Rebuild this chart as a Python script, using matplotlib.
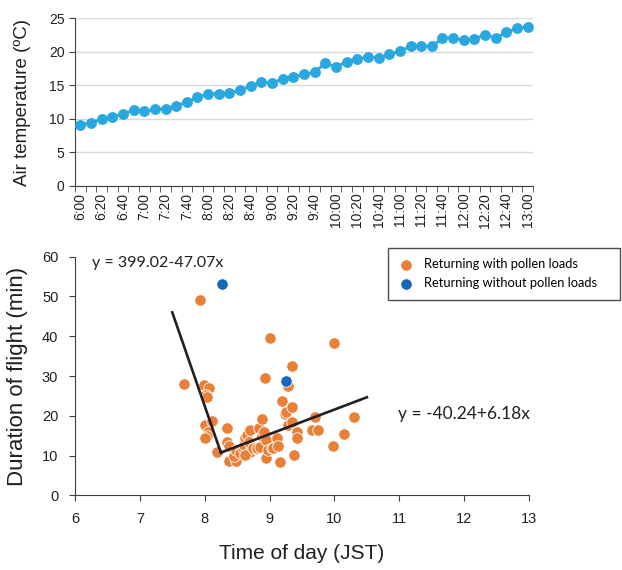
import numpy as np
import matplotlib
matplotlib.use("Agg")
from matplotlib import pyplot as plt
from matplotlib.ticker import MultipleLocator, FixedLocator

plt.rcParams['font.family'] = ['Liberation Sans', 'DejaVu Sans']

# air temperature every 10 min, 6:00 - 13:00
times = ['%d:%02d' % (h, m) for h in range(6, 13) for m in (0, 10, 20, 30, 40, 50)] + ['13:00']
temp = [9.1, 9.4, 9.9, 10.3, 10.7, 11.3, 11.1, 11.4, 11.5, 11.9, 12.5, 13.2,
        13.7, 13.75, 13.8, 14.3, 14.85, 15.55, 15.3, 16.0, 16.2, 16.65, 16.95, 18.3,
        17.75, 18.5, 18.9, 19.2, 19.1, 19.6, 20.1, 20.8, 20.9, 20.8, 22.0, 22.1,
        21.7, 21.9, 22.55, 22.1, 22.9, 23.5, 23.75]

# flights returning with pollen loads (time of day, duration min)
with_x = [7.68, 7.93, 7.99, 8.06, 8.02, 8.04, 8.00, 8.11, 8.05, 8.04, 8.01, 8.19,
          8.34, 8.37, 8.35, 8.38, 8.48, 8.45, 8.49, 8.55, 8.59, 8.60, 8.62, 8.65,
          8.70, 8.68, 8.70, 8.62, 8.75, 8.80, 8.85, 8.83, 8.88, 8.88, 8.92, 8.93,
          8.95, 8.95, 8.98, 9.00, 9.03, 9.06, 9.12, 9.13, 9.16, 9.19, 9.24, 9.25,
          9.29, 9.29, 9.34, 9.34, 9.35, 9.38, 9.42, 9.42, 9.65, 9.75, 9.70, 9.98,
          9.99, 10.14, 10.30]
with_y = [28.1, 49.2, 27.7, 27.0, 25.3, 24.6, 17.8, 18.6, 16.0, 14.8, 14.4, 10.8,
          13.4, 12.3, 16.9, 8.7, 8.7, 10.0, 11.4, 10.6, 11.8, 12.7, 14.3, 15.1,
          16.4, 13.5, 10.8, 10.1, 12.0, 11.8, 12.2, 16.9, 19.2, 14.8, 16.0, 29.6,
          9.3, 13.9, 11.4, 39.5, 12.0, 11.9, 14.5, 12.3, 8.3, 23.8, 20.5, 21.0,
          27.4, 17.7, 22.2, 18.4, 32.6, 10.1, 16.0, 14.3, 16.4, 16.4, 19.8, 12.4,
          38.2, 15.3, 19.6]
# returning without pollen loads
without_x = [8.27, 9.26]
without_y = [53.2, 28.8]

# piecewise regression
fit1 = (399.02, -47.07, 7.5, 8.25)
fit2 = (-40.24, 6.18, 8.25, 10.5)

orange = '#E8803A'
blue = '#1568B4'
dark = '#231F20'

fig = plt.figure(figsize=(6.22, 5.70), dpi=100)

# ---- top panel: temperature
ax1 = fig.add_axes([75/622, 1-185.7/570, 458/622, 167.4/570])
idx = np.arange(len(temp))
ax1.plot(idx, temp, '-o', color='#29A8E0', lw=2.0, ms=6.8, zorder=3)
ax1.set_xlim(-0.5, len(temp)-0.5)
ax1.set_ylim(0, 25)
ax1.yaxis.set_major_locator(MultipleLocator(5))
ax1.grid(axis='y', color='#D9D9D9', lw=1.0)
ax1.set_axisbelow(True)
ax1.xaxis.set_major_locator(FixedLocator(idx[::2]))
ax1.set_xticklabels(times[::2], rotation=90)
ax1.xaxis.set_minor_locator(FixedLocator(np.arange(-0.5, len(temp), 1)))
ax1.tick_params(axis='x', which='major', length=0, pad=5, labelsize=10, colors=dark)
ax1.tick_params(axis='x', which='minor', length=4, direction='out', color='#404040')
ax1.tick_params(axis='y', length=4, direction='out', labelsize=10, colors=dark, color='#404040')
for s in ['top', 'right']:
    ax1.spines[s].set_visible(False)
for s in ['left', 'bottom']:
    ax1.spines[s].set_color('#404040')
ax1.set_ylabel('Air temperature (ºC)', fontsize=13.5, color=dark, labelpad=13)

# ---- bottom panel: flight duration
ax2 = fig.add_axes([75/622, 1-495.3/570, 454/622, 238.6/570])
ax2.scatter(with_x, with_y, s=68, color=orange, edgecolor='white', lw=0.6,
            label='Returning with pollen loads', zorder=3)
ax2.scatter(without_x, without_y, s=68, color=blue, edgecolor='white', lw=0.6,
            label='Returning without pollen loads', zorder=4)
for a, b, x0, x1 in (fit1, fit2):
    xs = np.array([x0, x1])
    ax2.plot(xs, a + b*xs, color=dark, lw=1.9, zorder=5)
ax2.text(6.26, 58.5, 'y = 399.02-47.07x', fontsize=11.5, va='center', color=dark,
         family=['Lato', 'DejaVu Sans'])
ax2.text(10.98, 20.5, 'y = -40.24+6.18x', fontsize=12.5, va='center', color=dark,
         family=['Lato', 'DejaVu Sans'])
ax2.set_xlim(6, 13)
ax2.set_ylim(0, 60)
ax2.xaxis.set_major_locator(MultipleLocator(1))
ax2.yaxis.set_major_locator(MultipleLocator(10))
ax2.tick_params(length=4, direction='out', labelsize=10.5, colors=dark, color='#404040', pad=8)
for s in ['top', 'right']:
    ax2.spines[s].set_visible(False)
for s in ['left', 'bottom']:
    ax2.spines[s].set_color('#404040')
ax2.set_ylabel('Duration of flight (min)', fontsize=16, color=dark, labelpad=10)
ax2.set_xlabel('Time of day (JST)', fontsize=15, color=dark, labelpad=13)

leg = fig.legend(loc='upper left', bbox_to_anchor=(388/622, 1-300/570, 232/622, 52/570),
                 mode='expand', borderaxespad=0, frameon=True, fancybox=False, edgecolor=dark,
                 handletextpad=0.8, handlelength=1.2, borderpad=0.8, labelspacing=0.55,
                 prop={'family': ['Lato', 'DejaVu Sans'], 'size': 9.3})
leg.get_frame().set_linewidth(1.0)

fig.savefig('out.png', dpi=100)
